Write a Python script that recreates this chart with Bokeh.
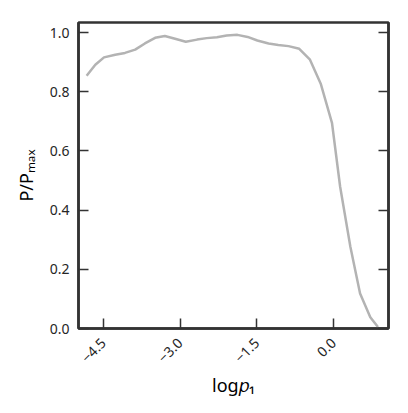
import math
from bokeh.plotting import figure
from bokeh.models import LinearAxis, FixedTicker, Range1d, CustomJSTickFormatter
from bokeh.embed import file_html
from bokeh.resources import INLINE

log_p1 = [-4.83, -4.66, -4.49, -4.27, -4.08, -3.88, -3.69, -3.49, -3.30, -3.10,
          -2.89, -2.67, -2.48, -2.28, -2.09, -1.88, -1.68, -1.49, -1.27, -1.08,
          -0.88, -0.67, -0.46, -0.25, -0.03, 0.13, 0.33, 0.52, 0.72, 0.87]
p_ratio = [0.854, 0.891, 0.916, 0.925, 0.931, 0.942, 0.963, 0.982, 0.988, 0.979,
           0.969, 0.976, 0.981, 0.984, 0.990, 0.992, 0.985, 0.973, 0.963, 0.958,
           0.954, 0.945, 0.908, 0.827, 0.695, 0.479, 0.276, 0.118, 0.038, 0.005]
x_ticks = [-4.5, -3.0, -1.5, 0.0]
y_ticks = [0.0, 0.2, 0.4, 0.6, 0.8, 1.0]
x_title = "log𝑝₁"
y_title = "P/Pₘₐₓ"

FONT = "Noto Sans"
DARK = "#333333"

p = figure(width=400, height=405, output_backend="svg", toolbar_location=None,
           x_range=Range1d(-4.989, 1.076), y_range=Range1d(0.0, 1.0338),
           min_border_left=78, min_border_right=12, min_border_top=22, min_border_bottom=77,
           x_axis_label=x_title, y_axis_label=y_title)
p.line(log_p1, p_ratio, line_color="#b3b3b3", line_width=2.5)

p.xgrid.visible = False
p.ygrid.visible = False
p.outline_line_color = DARK
p.outline_line_width = 2.5
p.outline_line_alpha = 1.0
p.background_fill_color = "white"
p.border_fill_color = "white"

fmt = CustomJSTickFormatter(code="return tick.toFixed(1).replace('-', '\\u2212');")

for ax in (p.xaxis[0], p.yaxis[0]):
    ax.axis_line_color = DARK
    ax.axis_line_width = 2.5
    ax.major_tick_in = 10
    ax.major_tick_out = 0
    ax.major_tick_line_color = DARK
    ax.major_tick_line_width = 1.5
    ax.minor_tick_line_color = None
    ax.major_label_text_font = FONT
    ax.major_label_text_font_size = "14px"
    ax.major_label_text_color = "#262626"
    ax.formatter = fmt
    ax.axis_label_text_font = FONT
    ax.axis_label_text_font_size = "18px"
    ax.axis_label_text_font_style = "normal"
    ax.axis_label_text_color = "black"

p.xaxis[0].ticker = FixedTicker(ticks=x_ticks)
p.yaxis[0].ticker = FixedTicker(ticks=y_ticks)
p.xaxis[0].major_label_orientation = math.pi / 4
p.xaxis[0].major_label_standoff = 12
p.yaxis[0].major_label_standoff = 9
p.xaxis[0].axis_label_standoff = 3
p.yaxis[0].axis_label_standoff = 9

right = LinearAxis(ticker=FixedTicker(ticks=y_ticks))
right.major_label_text_font_size = "0px"
right.major_label_text_color = None
right.major_label_standoff = 0
right.axis_line_color = DARK
right.axis_line_width = 2.5
right.major_tick_in = 10
right.major_tick_out = 0
right.major_tick_line_color = DARK
right.major_tick_line_width = 1.5
right.minor_tick_line_color = None
p.add_layout(right, "right")

open("out.html", "w").write(file_html(p, INLINE))
